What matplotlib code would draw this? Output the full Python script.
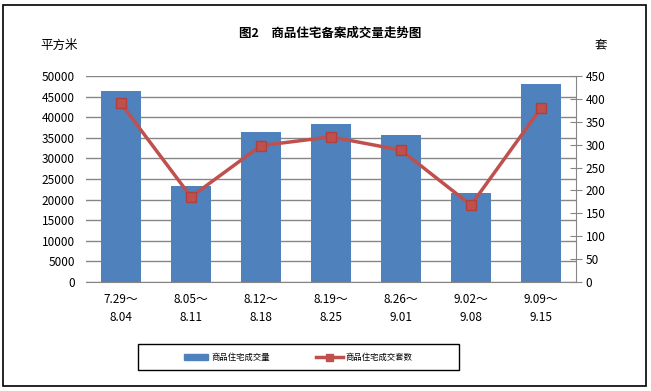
import matplotlib.pyplot as plt
from matplotlib.patches import Rectangle
from matplotlib.lines import Line2D
import numpy as np

plt.rcParams['font.family'] = ['Noto Sans CJK SC', 'DejaVu Sans']

weeks = ["7.29～\n8.04", "8.05～\n8.11", "8.12～\n8.18", "8.19～\n8.25",
         "8.26～\n9.01", "9.02～\n9.08", "9.09～\n9.15"]
area = [46300, 23200, 36300, 38300, 35800, 21700, 48000]
units = [390, 186, 298, 317, 288, 168, 380]

bar_color = "#4F81BD"
line_color = "#C0504D"
grid_color = "#868686"

fig = plt.figure(figsize=(6.51, 3.91), dpi=100)
ax = fig.add_axes([86 / 651, 1 - 282 / 391, 490 / 651, 206 / 391])
ax2 = ax.twinx()

x = np.arange(len(weeks))
ax.bar(x, area, width=0.57, color=bar_color, zorder=2)
ax.set_xlim(-0.5, len(weeks) - 0.5)
ax.set_ylim(0, 50000)
ax.set_yticks(range(0, 50001, 5000))
ax.yaxis.grid(True, color=grid_color, linewidth=1)
ax.set_axisbelow(True)
ax.set_xticks(x)
ax.set_xticklabels(weeks, fontsize=8.5, linespacing=1.5)
ax.tick_params(axis='x', length=0, pad=8)
ax.tick_params(axis='y', length=0, labelsize=8.5, pad=8)
for s in ["top", "left", "right"]:
    ax.spines[s].set_visible(False)
ax.spines["bottom"].set_color(grid_color)

ax2.plot(x, units, color=line_color, linewidth=2.5, marker="s", markersize=7.5,
         markerfacecolor=line_color, markeredgecolor="#B0403D", zorder=3)
ax2.set_ylim(0, 450)
ax2.set_yticks(range(0, 451, 50))
ax2.tick_params(axis='y', direction='inout', length=8, color=grid_color,
                labelsize=8.5, pad=3)
for s in ["top", "left", "bottom"]:
    ax2.spines[s].set_visible(False)
ax2.spines["right"].set_color(grid_color)

fig.text(0.507, 1 - 33 / 391, "图2　商品住宅备案成交量走势图", ha="center", va="center",
         fontsize=9, fontweight="bold")
fig.text(40 / 651, 1 - 45 / 391, "平方米", ha="left", va="center", fontsize=9)
fig.text(601 / 651, 1 - 45 / 391, "套", ha="center", va="center", fontsize=9)

# outer frame
fig.patches.append(Rectangle((3 / 651, 5 / 391), 643 / 651, 381 / 391,
                             transform=fig.transFigure, fill=False,
                             edgecolor="black", linewidth=1.2))

# legend box drawn by hand to match the position
fig.patches.append(Rectangle((138 / 651, 1 - 370 / 391), 321 / 651, 26 / 391,
                             transform=fig.transFigure, fill=False,
                             edgecolor="black", linewidth=1))
ly = 1 - 357 / 391
fig.patches.append(Rectangle((184 / 651, ly - 3 / 391), 24 / 651, 6 / 391,
                             transform=fig.transFigure, color=bar_color))
fig.text(212 / 651, ly, "商品住宅成交量", ha="left", va="center", fontsize=6)
fig.lines.append(Line2D([316 / 651, 343 / 651], [ly, ly], transform=fig.transFigure,
                        color=line_color, linewidth=2.5))
fig.patches.append(Rectangle((326 / 651, ly - 3.5 / 391), 7 / 651, 7 / 391,
                             transform=fig.transFigure, color=line_color))
fig.text(345 / 651, ly, "商品住宅成交套数", ha="left", va="center", fontsize=6)

fig.savefig("out.png", dpi=100)
